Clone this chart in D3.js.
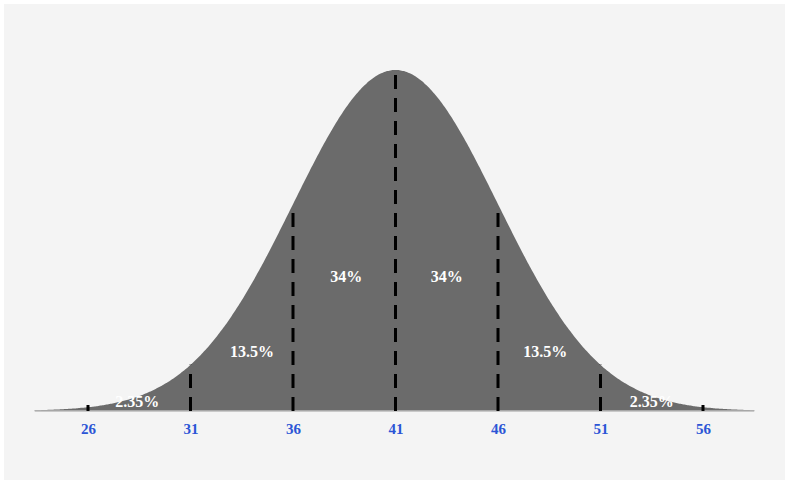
<!DOCTYPE html>
<html><head><meta charset="utf-8">
<script src="https://cdn.jsdelivr.net/npm/d3@7/dist/d3.min.js"></script>
<style>body{margin:0;background:#fff}</style></head>
<body><svg id="c" width="789" height="485"></svg>
<script>
const mean = 41, sd = 5;
const domain = [23.4, 58.5];
const tickValues = [26, 31, 36, 41, 46, 51, 56];
const dashedAt = [31, 36, 41, 46, 51];
const bandLabels = ["2.35%", "13.5%", "34%", "34%", "13.5%", "2.35%"];
const bandLabelX = [28.4, 34, 38.6, 43.5, 48.3, 53.5];
const bandLabelY = [0.02, 0.1, 0.78, 0.78, 0.1, 0.02];

const svg = d3.select("#c");
svg.append("rect").attr("x",4).attr("y",4).attr("width",781).attr("height",476).attr("fill","#f4f4f4");
const x = d3.scaleLinear().domain([26,56]).range([88,703]);
const pdf = v => Math.exp(-0.5*((v-mean)/sd)**2);
const y = d3.scaleLinear().domain([0,1]).range([411,70]);
const pts = d3.range(domain[0], domain[1]+0.001, 0.1);
svg.append("path").datum(pts)
  .attr("d", d3.area().x(d=>x(d)).y0(y(0)).y1(d=>y(pdf(d))).curve(d3.curveBasis))
  .attr("fill","#6b6b6b");
svg.append("line").attr("x1",x(domain[0])).attr("x2",x(domain[1])).attr("y1",y(0)).attr("y2",y(0)).attr("stroke","#bbb").attr("stroke-width",1.5);
dashedAt.forEach(v=>{
  svg.append("line").attr("x1",x(v)).attr("x2",x(v)).attr("y1",y(0)).attr("y2",y(pdf(v)))
    .attr("stroke","#000").attr("stroke-width",3).attr("stroke-dasharray","14,9");
});
[26,56].forEach(v=>svg.append("line").attr("x1",x(v)).attr("x2",x(v)).attr("y1",y(0)).attr("y2",y(0)-6).attr("stroke","#000").attr("stroke-width",3));
const axis = d3.axisBottom(x).tickValues(tickValues).tickSize(0).tickPadding(12);
const g = svg.append("g").attr("transform",`translate(0,${y(0)})`).call(axis);
g.select(".domain").remove();
g.selectAll("text").attr("fill","#2b55d6").attr("font-family","Liberation Serif").attr("font-weight","bold").attr("font-size",15);
bandLabels.forEach((t,i)=>{
  svg.append("text").attr("x",x(bandLabelX[i])).attr("y",y(0)-4 - (i==0||i==5?0:0) + (bandLabelY[i]==0.02?0:0))
    .attr("transform", null)
    .attr("y", [407,357,282,282,357,407][i])
    .attr("text-anchor","middle").attr("fill","#fff")
    .attr("font-family","Liberation Serif").attr("font-weight","bold").attr("font-size",16).text(t);
});
</script></body></html>
